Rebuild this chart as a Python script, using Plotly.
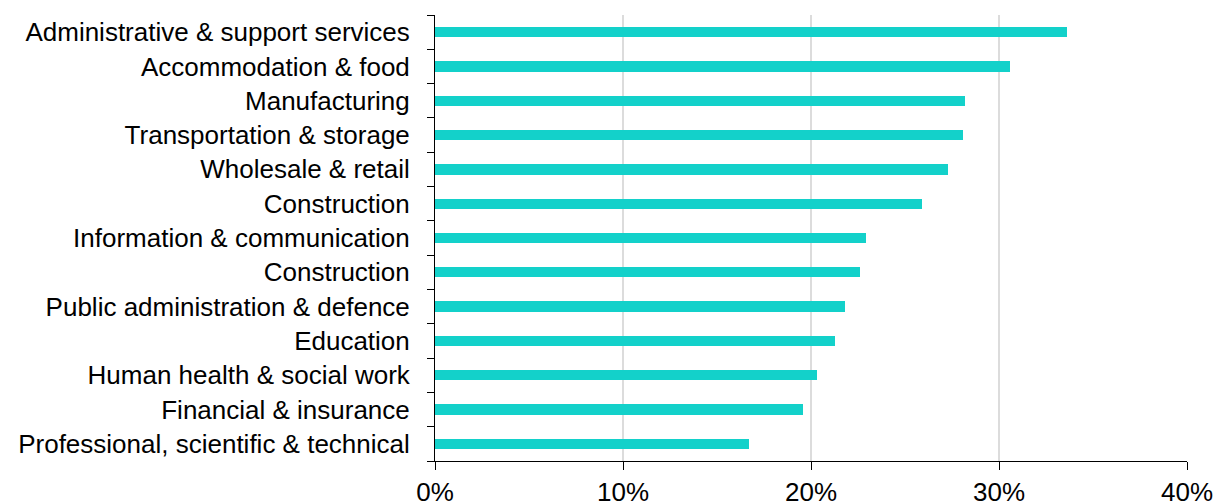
import plotly.graph_objects as go

# Share of workers by industry (%), top to bottom
industries = [
    "Administrative & support services",
    "Accommodation & food",
    "Manufacturing",
    "Transportation & storage",
    "Wholesale & retail",
    "Construction",
    "Information & communication",
    "Construction",
    "Public administration & defence",
    "Education",
    "Human health & social work",
    "Financial & insurance",
    "Professional, scientific & technical",
]
shares = [33.6, 30.6, 28.2, 28.1, 27.3, 25.9, 22.9, 22.6, 21.8, 21.3, 20.3, 19.6, 16.7]
x_ticks = [0, 10, 20, 30, 40]

positions = list(range(len(industries)))
boundaries = [p - 0.5 for p in positions] + [positions[-1] + 0.5]

fig = go.Figure(
    go.Bar(
        x=shares,
        y=positions,
        orientation="h",
        width=0.3,
        marker=dict(color="#13D1CA", line=dict(width=0)),
        hoverinfo="x+y",
    )
)

font = dict(family="Liberation Sans, Arial, sans-serif", size=26, color="#000000")

fig.update_layout(
    width=1229,
    height=502,
    margin=dict(l=435, r=42, t=15, b=41),
    paper_bgcolor="white",
    plot_bgcolor="white",
    font=font,
    showlegend=False,
    bargap=0,
)

fig.update_xaxes(
    range=[0, 40],
    tickvals=x_ticks,
    ticktext=[f"{v}%" for v in x_ticks],
    ticks="outside",
    ticklen=8,
    tickwidth=1,
    tickcolor="black",
    showline=True,
    linecolor="black",
    linewidth=1,
    showgrid=True,
    gridcolor="#dcdcdc",
    gridwidth=2,
    zeroline=False,
    tickfont=font,
    ticklabelstandoff=0,
    automargin=False,
)

fig.update_yaxes(
    range=[len(industries) - 0.5, -0.5],
    tickvals=positions,
    ticktext=industries,
    ticks="outside",
    ticklen=7,
    tickcolor="rgba(0,0,0,0)",
    minor=dict(
        tickvals=boundaries,
        ticks="outside",
        ticklen=7,
        tickwidth=1,
        tickcolor="black",
        showgrid=False,
    ),
    showline=True,
    linecolor="black",
    linewidth=1,
    showgrid=False,
    zeroline=False,
    tickfont=font,
    ticklabelstandoff=12,
    automargin=False,
)

fig.write_html("out.html")
